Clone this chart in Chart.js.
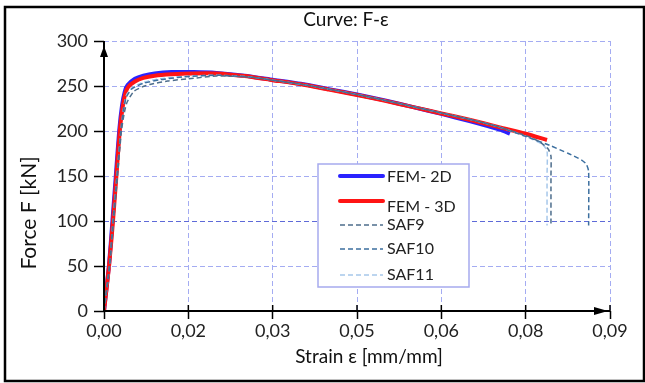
<!DOCTYPE html>
<html>
<head>
<meta charset="utf-8">
<script src="https://cdn.jsdelivr.net/npm/chart.js@4.4.0/dist/chart.umd.min.js"></script>
<style>
  html, body { margin: 0; padding: 0; background: #fff; }
  canvas { display: block; }
</style>
</head>
<body>
<canvas id="curvaFE" width="645" height="383"></canvas>
<script>
// valores
var xTickValues = [0, 0.015, 0.03, 0.045, 0.06, 0.075, 0.09];
var xTickLabels = ['0,00', '0,02', '0,03', '0,05', '0,06', '0,08', '0,09'];
var yTickValues = [0, 50, 100, 150, 200, 250, 300];

var seriesNames = ['FEM- 2D', 'FEM - 3D', 'SAF9', 'SAF10', 'SAF11'];

var fem2dStrain = [0, 0.0009, 0.0015, 0.0021, 0.0027, 0.0032, 0.0037, 0.0042, 0.0055, 0.007, 0.009, 0.012, 0.016, 0.02, 0.025, 0.03, 0.035, 0.04, 0.045, 0.05, 0.055, 0.06, 0.065, 0.0704, 0.0722];
var fem2dForce  = [0, 52, 100, 150, 200, 228, 244, 251, 258, 261.5, 264, 265.5, 265.5, 264.5, 261.5, 257, 252.5, 246.5, 240.5, 234, 226.5, 219, 211, 201.5, 197];

var fem3dStrain = [0, 0.0009, 0.0016, 0.0022, 0.0028, 0.0033, 0.0038, 0.0043, 0.0055, 0.007, 0.009, 0.012, 0.016, 0.02, 0.025, 0.03, 0.035, 0.04, 0.045, 0.05, 0.055, 0.06, 0.065, 0.0704, 0.075, 0.0788];
var fem3dForce  = [0, 50, 100, 150, 200, 226, 242, 249, 255, 259, 261.5, 263, 264, 264, 261, 256.5, 252, 246, 240, 233.5, 226.5, 219.5, 212.5, 204, 197, 190];

var saf9Strain = [0, 0.001, 0.0017, 0.0024, 0.0031, 0.0036, 0.0041, 0.0053, 0.0068, 0.0083, 0.0113, 0.015, 0.02, 0.026, 0.03, 0.035, 0.04, 0.045, 0.05, 0.055, 0.06, 0.065, 0.07, 0.075, 0.0775, 0.079, 0.0795, 0.0795, 0.0795];
var saf9Force  = [0, 50, 100, 150, 200, 220, 232, 244, 249, 252, 255.5, 258, 261, 260, 256.5, 252, 246.5, 240.5, 234, 227, 220, 213, 205, 195, 188, 180, 172, 150, 95];

var saf10Strain = [0, 0.001, 0.0016, 0.0023, 0.003, 0.0035, 0.004, 0.005, 0.007, 0.01, 0.014, 0.02, 0.026, 0.03, 0.035, 0.04, 0.045, 0.05, 0.055, 0.06, 0.065, 0.07, 0.075, 0.0793, 0.0826, 0.0849, 0.0858, 0.0862, 0.0862];
var saf10Force  = [0, 52, 100, 150, 200, 225, 238, 247, 253, 257, 260, 262, 260, 256.5, 252, 246.5, 240.5, 234, 227, 220, 213, 205, 194, 184, 175, 168, 163, 155, 95];

var saf11Strain = [0, 0.001, 0.0016, 0.0023, 0.003, 0.0035, 0.004, 0.005, 0.007, 0.01, 0.014, 0.02, 0.026, 0.03, 0.035, 0.04, 0.045, 0.05, 0.055, 0.06, 0.065, 0.07, 0.075, 0.078, 0.0788, 0.0788, 0.0788];
var saf11Force  = [0, 50, 100, 150, 200, 226, 240, 248, 254, 258, 260.5, 262, 260, 256.5, 252, 246.5, 240.5, 234, 227, 220, 213, 205, 194, 185, 178, 150, 95];

function pontos(strain, force) {
  return strain.map(function (x, i) { return { x: x, y: force[i] }; });
}

var fonte = 'Lato, "Open Sans", sans-serif';
var corGrade = '#a4acf2';

var data = {
  datasets: [
    { label: seriesNames[2], data: pontos(saf9Strain, saf9Force), borderColor: '#4d6d8c', borderWidth: 1.5, borderDash: [5, 3], order: 0 },
    { label: seriesNames[3], data: pontos(saf10Strain, saf10Force), borderColor: '#3c6f9f', borderWidth: 1.5, borderDash: [5, 3], order: 0 },
    { label: seriesNames[4], data: pontos(saf11Strain, saf11Force), borderColor: '#a6c7ea', borderWidth: 1.5, borderDash: [5, 3], order: 0 },
    { label: seriesNames[1], data: pontos(fem3dStrain, fem3dForce), borderColor: '#ff1414', borderWidth: 4, order: 1 },
    { label: seriesNames[0], data: pontos(fem2dStrain, fem2dForce), borderColor: '#2a22ff', borderWidth: 4, order: 2 }
  ]
};

// fundo, eixos com setas, legenda, titulos e moldura
var decoracao = {
  id: 'decoracao',
  beforeDraw: function (chart) {
    var ctx = chart.ctx;
    ctx.save();
    ctx.fillStyle = '#fff';
    ctx.fillRect(0, 0, chart.width, chart.height);
    ctx.restore();
  },
  afterDraw: function (chart) {
    var ctx = chart.ctx, xs = chart.scales.x, ys = chart.scales.y;
    var x0 = xs.getPixelForValue(0), y0 = ys.getPixelForValue(0);
    var xEnd = xs.getPixelForValue(0.09), yTop = ys.getPixelForValue(300);
    ctx.save();
    ctx.strokeStyle = '#000';
    ctx.fillStyle = '#000';
    ctx.lineWidth = 2;
    ctx.beginPath();
    ctx.moveTo(x0, y0); ctx.lineTo(x0, yTop);
    ctx.moveTo(x0, y0); ctx.lineTo(xEnd, y0);
    ctx.stroke();
    // setas
    ctx.beginPath();
    ctx.moveTo(x0, yTop + 5); ctx.lineTo(x0 - 4, yTop + 16); ctx.lineTo(x0 + 4, yTop + 16); ctx.closePath();
    ctx.fill();
    ctx.beginPath();
    ctx.moveTo(xEnd - 2, y0); ctx.lineTo(xEnd - 16, y0 - 4); ctx.lineTo(xEnd - 16, y0 + 4); ctx.closePath();
    ctx.fill();
    // ticks acima do eixo x
    ctx.lineWidth = 1.5;
    xTickValues.forEach(function (v) {
      var px = xs.getPixelForValue(v);
      ctx.beginPath(); ctx.moveTo(px, y0); ctx.lineTo(px, y0 - 6); ctx.stroke();
    });

    // legenda
    var lx = 318, ly = 164, lw = 151, lh = 123;
    ctx.fillStyle = '#fff';
    ctx.fillRect(lx, ly, lw, lh);
    ctx.strokeStyle = '#a6aaee';
    ctx.lineWidth = 1.5;
    ctx.strokeRect(lx, ly, lw, lh);
    var ordem = [4, 3, 0, 1, 2];
    var linhaY = [176, 201, 225, 249, 275];
    var textoY = [177, 207, 225, 249, 275];
    ctx.font = '16px ' + fonte;
    ctx.textBaseline = 'middle';
    ctx.textAlign = 'left';
    ordem.forEach(function (di, i) {
      var ds = chart.data.datasets[di];
      ctx.strokeStyle = ds.borderColor;
      ctx.lineWidth = ds.borderWidth;
      ctx.lineCap = ds.borderWidth > 2 ? 'round' : 'butt';
      ctx.setLineDash(ds.borderDash || []);
      ctx.beginPath(); ctx.moveTo(340, linhaY[i]); ctx.lineTo(383, linhaY[i]); ctx.stroke();
      ctx.setLineDash([]);
      ctx.fillStyle = '#222';
      ctx.fillText(ds.label, 387, textoY[i]);
    });

    // titulos
    ctx.fillStyle = '#111';
    ctx.textAlign = 'center';
    ctx.font = '19px ' + fonte;
    ctx.fillText('Curve: F-\u03b5', 346, 20);
    ctx.fillText('Strain \u03b5 [mm/mm]', 369, 357);
    ctx.save();
    ctx.translate(29, 213);
    ctx.rotate(-Math.PI / 2);
    ctx.font = '21px ' + fonte;
    ctx.fillText('Force F [kN]', 0, 0);
    ctx.restore();

    // moldura
    ctx.strokeStyle = '#000';
    ctx.lineWidth = 2.5;
    ctx.strokeRect(5, 7, 639, 374);
    ctx.restore();
  }
};

var ctx = document.getElementById('curvaFE');
var grafico = new Chart(ctx, {
  type: 'line',
  data: data,
  options: {
    responsive: false,
    animation: false,
    devicePixelRatio: 1,
    layout: { padding: { left: 0, top: 41, right: 35, bottom: 0 } },
    elements: { point: { radius: 0 }, line: { tension: 0.2, fill: false } },
    plugins: { legend: { display: false }, title: { display: false }, tooltip: { enabled: false } },
    scales: {
      x: {
        type: 'linear', min: 0, max: 0.09,
        afterBuildTicks: function (scale) { scale.ticks = xTickValues.map(function (v) { return { value: v }; }); },
        afterFit: function (scale) { scale.height = 72; },
        ticks: {
          autoSkip: false, maxRotation: 0, padding: 1, color: '#222',
          font: { family: fonte, size: 18 },
          callback: function (value, index) { return xTickLabels[index]; }
        },
        grid: { color: corGrade, lineWidth: 1, tickColor: '#000', tickLength: 8, tickWidth: 1.5, tickBorderDash: [] },
        border: { display: false, dash: [5, 3] }
      },
      y: {
        min: 0, max: 300,
        afterBuildTicks: function (scale) { scale.ticks = yTickValues.map(function (v) { return { value: v }; }); },
        afterFit: function (scale) { scale.width = 104; },
        ticks: { padding: 6, color: '#222', font: { family: fonte, size: 18 } },
        grid: {
          color: function (c) { return c.tick && c.tick.value === 100 ? '#5e6ad8' : corGrade; },
          lineWidth: 1, tickColor: '#000', tickLength: 10, tickWidth: 1.5, tickBorderDash: []
        },
        border: { display: false, dash: [5, 3] }
      }
    }
  },
  plugins: [decoracao]
});
</script>
</body>
</html>
